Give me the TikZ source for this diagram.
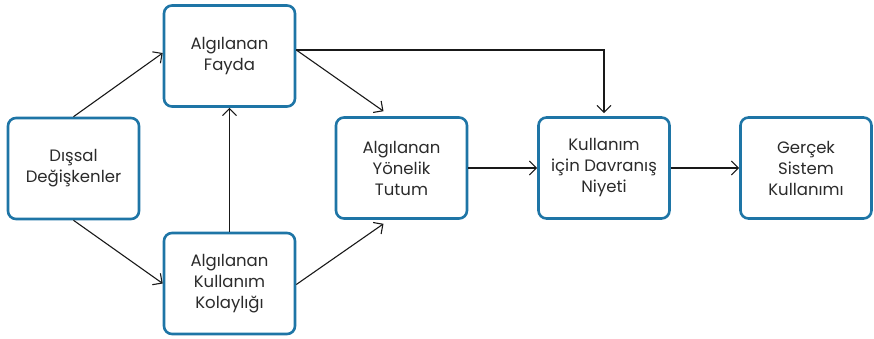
\documentclass[tikz,border=0pt]{standalone}
\usepackage{fontspec}
\setmainfont{Poppins}
\usetikzlibrary{arrows.meta,calc}
\definecolor{boxblue}{HTML}{1E75A6}
\definecolor{txt}{HTML}{2B2B2B}
\begin{document}
\begin{tikzpicture}[x=1pt,y=-1pt,
  box/.style={draw=boxblue,line width=2.6pt,rounded corners=8pt,fill=white,
    minimum width=131pt,minimum height=101pt,align=center,
    font=\fontsize{16.5}{21}\selectfont,text=txt,inner sep=2pt},
  link/.style={draw=black!90,line width=1.1pt,-{Straight Barb[length=7pt,width=14pt,line width=1.1pt]}}]
\useasboundingbox (0,0) rectangle (874,339);
% boxes
\node[box] (dis) at (73.5,168.5) {Dışsal\\Değişkenler};
\node[box] (fay) at (229.5,56) {Algılanan\\Fayda};
\node[box] (kol) at (229.5,283.5) {Algılanan\\Kullanım\\Kolaylığı};
\node[box] (tut) at (401.5,168) {Algılanan\\Yönelik\\Tutum};
\node[box] (niy) at (604,168) {Kullanım\\için Davranış\\Niyeti};
\node[box] (ger) at (806,168) {Gerçek\\Sistem\\Kullanımı};
% connectors
\draw[link] (dis.north) -- ($(fay.west)+(0,-3)$);
\draw[link] (dis.south) -- ($(kol.west)+(0,0)$);
\draw[link] (kol.north) -- (fay.south);
\draw[link] ($(fay.east)+(0,-6)$) -- ($(tut.north)+(-18,-5)$);
\draw[link] ($(kol.east)+(0,1)$) -- ($(tut.south)+(-18,4)$);
\draw[link] ($(fay.east)+(0,-6)$) -| ($(niy.north)+(0,-3)$);
\draw[link] (tut.east) -- (niy.west);
\draw[link] (niy.east) -- (ger.west);
\end{tikzpicture}
\end{document}
